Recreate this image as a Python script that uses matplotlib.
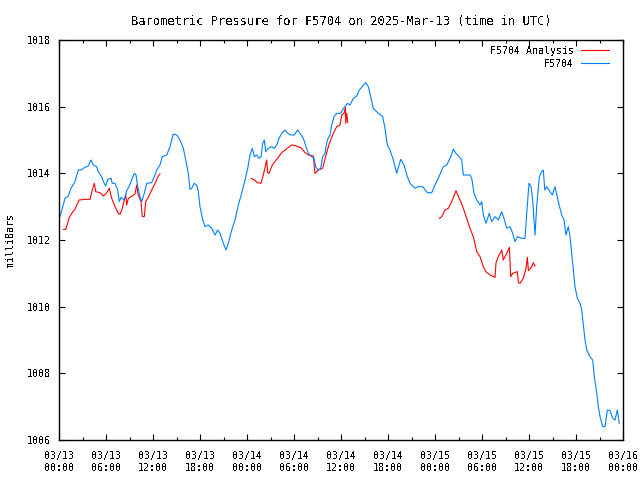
import numpy as np
import matplotlib
matplotlib.use("Agg")
import matplotlib.pyplot as plt
import matplotlib.dates as mdates
from datetime import datetime, timedelta

# hours since 2025-03-13 00:00 UTC, pressure in millibars
station_hours = [
    0.13, 0.42, 0.77, 1.19, 1.53, 2.04, 2.46, 2.81, 3.32, 3.74, 4.09, 4.38, 4.81, 5.02,
    5.45, 5.66, 5.96, 6.22, 6.64, 6.80, 7.15, 7.49, 7.70, 7.92, 8.34, 8.64, 8.94, 9.28,
    9.61, 9.83, 10.05, 10.34, 10.56, 10.89, 11.20, 11.83, 12.26, 12.47, 12.89, 13.19,
    13.75, 14.17, 14.59, 15.03, 15.45, 15.87, 16.18, 16.51, 16.72, 16.94, 17.27, 17.58,
    17.78, 18.00, 18.35, 18.64, 19.06, 19.49, 19.92, 20.26, 20.55, 20.98, 21.32, 21.61,
    22.05, 22.47, 22.89, 23.32, 23.75, 24.09, 24.38, 24.68, 24.93, 25.24, 25.53, 25.79,
    26.01, 26.21, 26.39, 26.72, 27.15, 27.49, 27.79, 28.09, 28.43, 28.85, 29.20, 29.62,
    30.04, 30.47, 30.77, 31.19, 31.53, 31.83, 32.26, 32.55, 32.77, 33.10, 33.41, 33.66,
    33.96, 34.25, 34.60, 34.81, 35.11, 35.45, 35.96, 36.22, 36.51, 36.81, 37.15, 37.57,
    38.01, 38.34, 38.77, 39.15, 39.49, 39.79, 40.12, 40.76, 41.32, 41.62, 41.91, 42.26,
    42.68, 43.11, 43.62, 44.04, 44.47, 44.81, 45.45, 45.87, 46.43, 47.02, 47.58, 48.00,
    48.42, 48.77, 49.06, 49.50, 49.70, 50.01, 50.34, 50.68, 51.10, 51.41, 51.62, 52.47,
    52.69, 52.98, 53.33, 53.75, 53.96, 54.17, 54.51, 54.93, 55.24, 55.66, 56.08, 56.52,
    56.81, 57.16, 57.58, 57.92, 58.22, 58.51, 59.07, 59.49, 59.71, 60.00, 60.26, 60.47,
    60.77, 60.98, 61.32, 61.62, 61.83, 62.01, 62.26, 62.68, 62.98, 63.32, 63.74, 64.18,
    64.47, 64.72, 65.02, 65.24, 65.45, 65.66, 65.87, 66.17, 66.51, 66.73, 67.15, 67.37,
    67.79, 68.13, 68.34, 68.65, 68.85, 69.07, 69.41, 69.70, 70.00, 70.34, 70.69, 70.98,
    71.27, 71.53,
]
station_mb = [
    1012.70, 1012.95, 1013.25, 1013.32, 1013.55, 1013.75, 1014.10, 1014.10, 1014.18, 1014.22,
    1014.40, 1014.25, 1014.20, 1014.05, 1013.90, 1013.75, 1013.62, 1013.82, 1013.85, 1013.70,
    1013.70, 1013.50, 1013.15, 1013.28, 1013.20, 1013.48, 1013.60, 1013.80, 1014.00, 1013.95,
    1013.60, 1013.30, 1013.15, 1013.40, 1013.70, 1013.72, 1013.95, 1014.10, 1014.25, 1014.50,
    1014.55, 1014.80, 1015.18, 1015.15, 1015.00, 1014.75, 1014.40, 1014.00, 1013.52, 1013.55,
    1013.70, 1013.65, 1013.45, 1013.00, 1012.60, 1012.40, 1012.45, 1012.35, 1012.15, 1012.30,
    1012.20, 1011.90, 1011.70, 1011.90, 1012.30, 1012.60, 1013.05, 1013.40, 1013.80, 1014.15,
    1014.55, 1014.75, 1014.50, 1014.55, 1014.45, 1014.50, 1014.90, 1015.00, 1014.65, 1014.75,
    1014.80, 1014.75, 1014.85, 1015.05, 1015.20, 1015.30, 1015.20, 1015.15, 1015.15, 1015.30,
    1015.20, 1015.05, 1014.80, 1014.60, 1014.50, 1014.45, 1014.20, 1014.10, 1014.15, 1014.50,
    1014.60, 1015.00, 1015.15, 1015.45, 1015.70, 1015.80, 1015.80, 1015.92, 1016.00, 1016.10,
    1016.05, 1016.25, 1016.32, 1016.50, 1016.62, 1016.72, 1016.60, 1016.30, 1015.95, 1015.80,
    1015.70, 1015.35, 1014.85, 1014.70, 1014.40, 1014.00, 1014.42, 1014.25, 1013.90, 1013.70,
    1013.55, 1013.60, 1013.60, 1013.42, 1013.42, 1013.65, 1013.85, 1014.05, 1014.20, 1014.25,
    1014.35, 1014.50, 1014.72, 1014.60, 1014.50, 1014.40, 1013.95, 1013.95, 1013.85, 1013.40,
    1013.20, 1013.05, 1013.15, 1012.75, 1012.50, 1012.80, 1012.55, 1012.70, 1012.60, 1012.85,
    1012.65, 1012.35, 1012.40, 1012.20, 1011.95, 1012.10, 1012.05, 1012.05, 1012.80, 1013.70,
    1013.60, 1013.20, 1012.15, 1013.00, 1013.90, 1014.05, 1014.10, 1013.50, 1013.60, 1013.45,
    1013.35, 1013.60, 1013.15, 1012.75, 1012.60, 1012.15, 1012.40, 1012.10, 1011.60, 1011.10,
    1010.60, 1010.25, 1010.10, 1009.90, 1009.00, 1008.70, 1008.50, 1008.40, 1007.90, 1007.40,
    1007.00, 1006.70, 1006.40, 1006.40, 1006.90, 1006.88, 1006.65, 1006.60, 1006.90, 1006.50,
]

# analysis comes in three separate runs
analysis1_hours = [0.55, 0.86, 1.28, 1.62, 2.04, 2.55, 3.32, 3.96, 4.25, 4.51, 4.69, 5.23,
                   5.66, 6.09, 6.42, 6.73, 7.15, 7.57, 7.79, 8.08, 8.34, 8.52, 8.64, 8.85,
                   9.36, 9.70, 9.92, 10.12, 10.47, 10.63, 10.89, 11.07, 11.40, 11.83, 12.26,
                   12.68, 12.89]
analysis1_mb = [1012.32, 1012.32, 1012.65, 1012.80, 1012.92, 1013.20, 1013.22, 1013.22,
                1013.50, 1013.70, 1013.45, 1013.42, 1013.32, 1013.42, 1013.55, 1013.25,
                1013.00, 1012.80, 1012.77, 1012.95, 1013.20, 1013.35, 1013.05, 1013.25,
                1013.32, 1013.38, 1013.65, 1013.35, 1013.15, 1012.70, 1012.70, 1013.15,
                1013.28, 1013.50, 1013.70, 1013.92, 1013.98]
analysis2_hours = [24.51, 24.93, 25.37, 25.79, 26.08, 26.52, 26.64, 26.81, 27.23, 27.79,
                   28.43, 28.85, 29.71, 30.35, 30.98, 31.41, 31.83, 32.47, 32.68, 33.10,
                   33.66, 34.09, 34.51, 35.02, 35.45, 35.87, 36.09, 36.38, 36.55, 36.60,
                   36.73, 36.86]
analysis2_mb = [1013.85, 1013.80, 1013.72, 1013.70, 1013.95, 1014.40, 1014.02, 1014.00,
                1014.25, 1014.42, 1014.62, 1014.70, 1014.85, 1014.82, 1014.75, 1014.62,
                1014.55, 1014.52, 1014.00, 1014.10, 1014.15, 1014.55, 1014.90, 1015.20,
                1015.40, 1015.45, 1015.75, 1015.80, 1015.98, 1015.50, 1015.80, 1015.52]
analysis3_hours = [48.55, 48.86, 49.28, 49.70, 50.13, 50.68, 51.19, 51.62, 52.05, 52.47,
                   52.89, 53.33, 53.75, 54.17, 54.51, 55.02, 55.66, 55.79, 56.08, 56.52,
                   56.72, 57.16, 57.49, 57.67, 57.92, 58.51, 58.64, 58.85, 59.27, 59.62,
                   59.79, 59.92, 60.35, 60.56, 60.77]
analysis3_mb = [1012.65, 1012.70, 1012.90, 1012.95, 1013.15, 1013.48, 1013.20, 1012.95,
                1012.65, 1012.35, 1012.10, 1011.65, 1011.50, 1011.20, 1011.05, 1010.95,
                1010.88, 1011.32, 1011.50, 1011.70, 1011.40, 1011.60, 1011.78, 1010.90,
                1011.00, 1011.05, 1010.72, 1010.70, 1010.85, 1011.15, 1011.48, 1011.08,
                1011.20, 1011.32, 1011.22]

start = datetime(2025, 3, 13)


def to_times(hours):
    return [start + timedelta(hours=h) for h in hours]


# join the analysis runs with NaN gaps so it is one legend entry
an_hours = []
an_mb = []
for hh, mm in [(analysis1_hours, analysis1_mb), (analysis2_hours, analysis2_mb),
               (analysis3_hours, analysis3_mb)]:
    if an_hours:
        an_hours.append(hh[0])
        an_mb.append(np.nan)
    an_hours.extend(hh)
    an_mb.extend(mm)

plt.rcParams['font.family'] = ['DejaVu Sans Mono']
plt.rcParams['font.size'] = 7.2
plt.rcParams['text.antialiased'] = False

fig = plt.figure(figsize=(6.4, 4.8), dpi=100)
ax = fig.add_axes([59 / 640, 40 / 480, 564 / 640, 400 / 480])

ax.plot(to_times(an_hours), an_mb, color='#ff0000', lw=0.8,
        label='F5704 Analysis')
ax.plot(to_times(station_hours), station_mb, color='#0080ff', lw=0.8,
        label='F5704')

ax.set_xlim(start, start + timedelta(hours=72))
ax.set_ylim(1006, 1018)
ax.set_yticks(np.arange(1006, 1019, 2))
ax.xaxis.set_major_locator(mdates.HourLocator(byhour=[0, 6, 12, 18]))
ax.xaxis.set_minor_locator(mdates.HourLocator(byhour=[3, 9, 15, 21]))
ax.xaxis.set_major_formatter(mdates.DateFormatter('%m/%d\n%H:%M'))

ax.tick_params(which='both', direction='in', top=True, right=True, color='black')
ax.tick_params(which='major', length=4, width=0.8)
ax.tick_params(axis='x', which='major', pad=8)
ax.tick_params(axis='y', which='major', pad=6)
ax.tick_params(which='minor', length=2, width=0.8)
for sp in ax.spines.values():
    sp.set_linewidth(1.0)

ax.set_title('Barometric Pressure for F5704 on 2025-Mar-13 (time in UTC)', pad=11)
ax.set_ylabel('milliBars', labelpad=8)

leg = ax.legend(loc='upper right', bbox_to_anchor=(1 - 7 / 564, 1 + 1 / 400),
                frameon=False, markerfirst=False, handlelength=2.8,
                handletextpad=0.7, borderaxespad=0.3, labelspacing=0.3)
for t in leg.get_texts():
    t.set_ha('right')

fig.savefig('out.png', dpi=100)
